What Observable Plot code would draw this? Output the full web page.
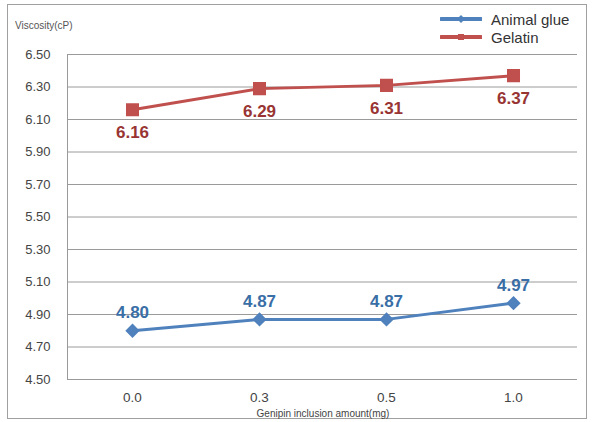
<!DOCTYPE html>
<html><head><meta charset="utf-8">
<script src="https://cdn.jsdelivr.net/npm/d3@7"></script>
<script src="https://cdn.jsdelivr.net/npm/@observablehq/plot@0.6"></script>
<style>
body{margin:0;background:#fff;}
#wrap{position:relative;width:592px;height:422px;font-family:"Liberation Sans",Arial,sans-serif;overflow:hidden;}
#border{position:absolute;left:7px;top:4px;width:580px;height:415px;border:1.5px solid #a0a0a0;box-sizing:border-box;pointer-events:none;}
#ytitle{position:absolute;left:15px;top:20px;font-size:10px;color:#555;}
#xtitle{position:absolute;left:0;width:646px;text-align:center;top:408px;font-size:10px;line-height:11px;color:#444;}
#legend{position:absolute;left:440px;top:10px;font-size:15px;color:#333;}
.lrow{display:flex;align-items:center;height:18px;}
.lrow svg{margin-right:9px;}
#chart{position:absolute;left:0;top:0;}
</style></head>
<body>
<div id="wrap">
  <div id="chart"></div>
  <div id="border"></div>
  <div id="ytitle">Viscosity(cP)</div>
  <div id="xtitle">Genipin inclusion amount(mg)</div>
  <div id="legend"></div>
</div>
<script>
const categories = ["0.0", "0.3", "0.5", "1.0"];
const animalGlue = [4.80, 4.87, 4.87, 4.97];
const gelatin = [6.16, 6.29, 6.31, 6.37];
const seriesNames = ["Animal glue", "Gelatin"];
const yTicks = [4.50, 4.70, 4.90, 5.10, 5.30, 5.50, 5.70, 5.90, 6.10, 6.30, 6.50];

const blue = "#4F81BD", red = "#C0504D";
const blueLabel = "#3a6ea6", redLabel = "#983533";

const glueData = categories.map((c, i) => ({cat: c, v: animalGlue[i]}));
const gelData = categories.map((c, i) => ({cat: c, v: gelatin[i]}));

const plot = Plot.plot({
  width: 592,
  height: 422,
  marginLeft: 67,
  marginRight: 15,
  marginTop: 54,
  marginBottom: 43,
  style: {color: "#444", fontFamily: "Liberation Sans, Arial, sans-serif", background: "transparent"},
  x: {type: "point", domain: categories, padding: 0.5, label: null},
  y: {domain: [4.5, 6.5], label: null},
  marks: [
    Plot.ruleY(yTicks, {stroke: "#9a9a9a", strokeWidth: 1}),
    Plot.frame({anchor: "left", stroke: "#9a9a9a"}),
    Plot.axisY({ticks: yTicks, tickFormat: d => d.toFixed(2), tickSize: 0, tickPadding: 17, fontSize: 13, label: null}),
    Plot.axisX({tickSize: 0, tickPadding: 13, fontSize: 13.5, label: null}),
    Plot.line(glueData, {x: "cat", y: "v", stroke: blue, strokeWidth: 3}),
    Plot.dot(glueData, {x: "cat", y: "v", symbol: "diamond2", r: 5.5, fill: blue, stroke: blue}),
    Plot.text(glueData, {x: "cat", y: "v", text: d => d.v.toFixed(2), dy: -18, fill: blueLabel, fontSize: 17, fontWeight: "bold"}),
    Plot.line(gelData, {x: "cat", y: "v", stroke: red, strokeWidth: 3}),
    Plot.dot(gelData, {x: "cat", y: "v", symbol: "square", r: 6.5, fill: red, stroke: red}),
    Plot.text(gelData, {x: "cat", y: "v", text: d => d.v.toFixed(2), dy: 23, fill: redLabel, fontSize: 17, fontWeight: "bold"})
  ]
});
document.getElementById("chart").appendChild(plot);

const legend = document.getElementById("legend");
[[seriesNames[0], blue, "diamond"], [seriesNames[1], red, "square"]].forEach(([name, col, shape]) => {
  const row = document.createElement("div");
  row.className = "lrow";
  const mk = shape === "square"
    ? `<rect x="18" y="5" width="6" height="6" fill="${col}"/>`
    : `<path d="M21 4 L25 8 L21 12 L17 8 Z" fill="${col}"/>`;
  row.innerHTML = `<svg width="42" height="16"><line x1="1" y1="8" x2="41" y2="8" stroke="${col}" stroke-width="4" stroke-linecap="round"/>${mk}</svg><span>${name}</span>`;
  legend.appendChild(row);
});
</script>
</body></html>
